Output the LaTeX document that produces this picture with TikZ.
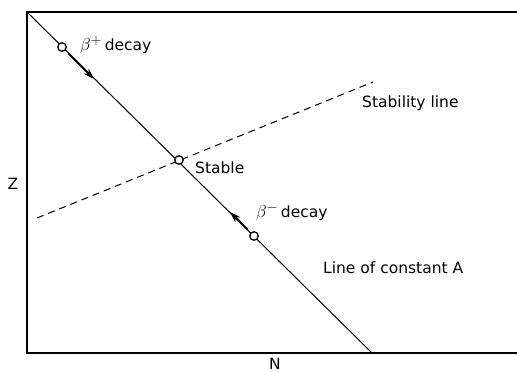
\documentclass[tikz,border=0pt]{standalone}
\usepackage{fontspec}
\setmainfont{DejaVu Sans}
\usetikzlibrary{arrows.meta}
\newcommand{\bigbeta}[1]{{\fontsize{19}{21}\selectfont$\beta^{#1}$}}
\begin{document}
\begin{tikzpicture}[x=1pt,y=-1pt,
  lab/.style={font=\fontsize{15.5}{17}\selectfont, inner sep=0pt, anchor=west},
  dot/.style={circle, draw, fill=white, line width=1.3pt, minimum size=8.5pt, inner sep=0pt},
  frame/.style={line width=1.4pt},
  thin/.style={line width=1pt},
  decay/.style={line width=2pt, -{Stealth[length=11pt,width=7pt]}}]
\useasboundingbox (0,0) rectangle (517,372);
% frame
\coordinate (tl) at (27,12);
\coordinate (tr) at (518,12);
\coordinate (bl) at (27,353);
\coordinate (br) at (518,353);
\draw[frame] (tr) -- (tl) -- (bl) -- (br);
% lines
\coordinate (bot) at (372,353);
\coordinate (sl) at (37,218);
\coordinate (sr) at (373,82);
\draw[thin] (tl) -- (bot);
\draw[thin, dash pattern=on 7pt off 5pt] (sl) -- (sr);
% points
\node[dot] (bp) at (62,47) {};
\node[dot] (st) at (179,160) {};
\node[dot] (bm) at (254,236) {};
\coordinate (bpt) at (94,79);
\coordinate (bmt) at (230,212);
\draw[decay, shorten <=4pt] (bp) -- (bpt);
\draw[decay, shorten <=4pt] (bm) -- (bmt);
% labels
\node[lab] (lbp) at (80,45) {\bigbeta{+}\,decay};
\node[lab] (lst) at (195,168) {Stable};
\node[lab] (lbm) at (256,212) {\bigbeta{-}\,decay};
\node[lab] (lsl) at (362,103) {Stability line};
\node[lab] (llc) at (323,268) {Line of constant A};
\node[lab, anchor=center] (lz) at (13,184) {Z};
\node[lab, anchor=center] (ln) at (275,364) {N};
\end{tikzpicture}
\end{document}
